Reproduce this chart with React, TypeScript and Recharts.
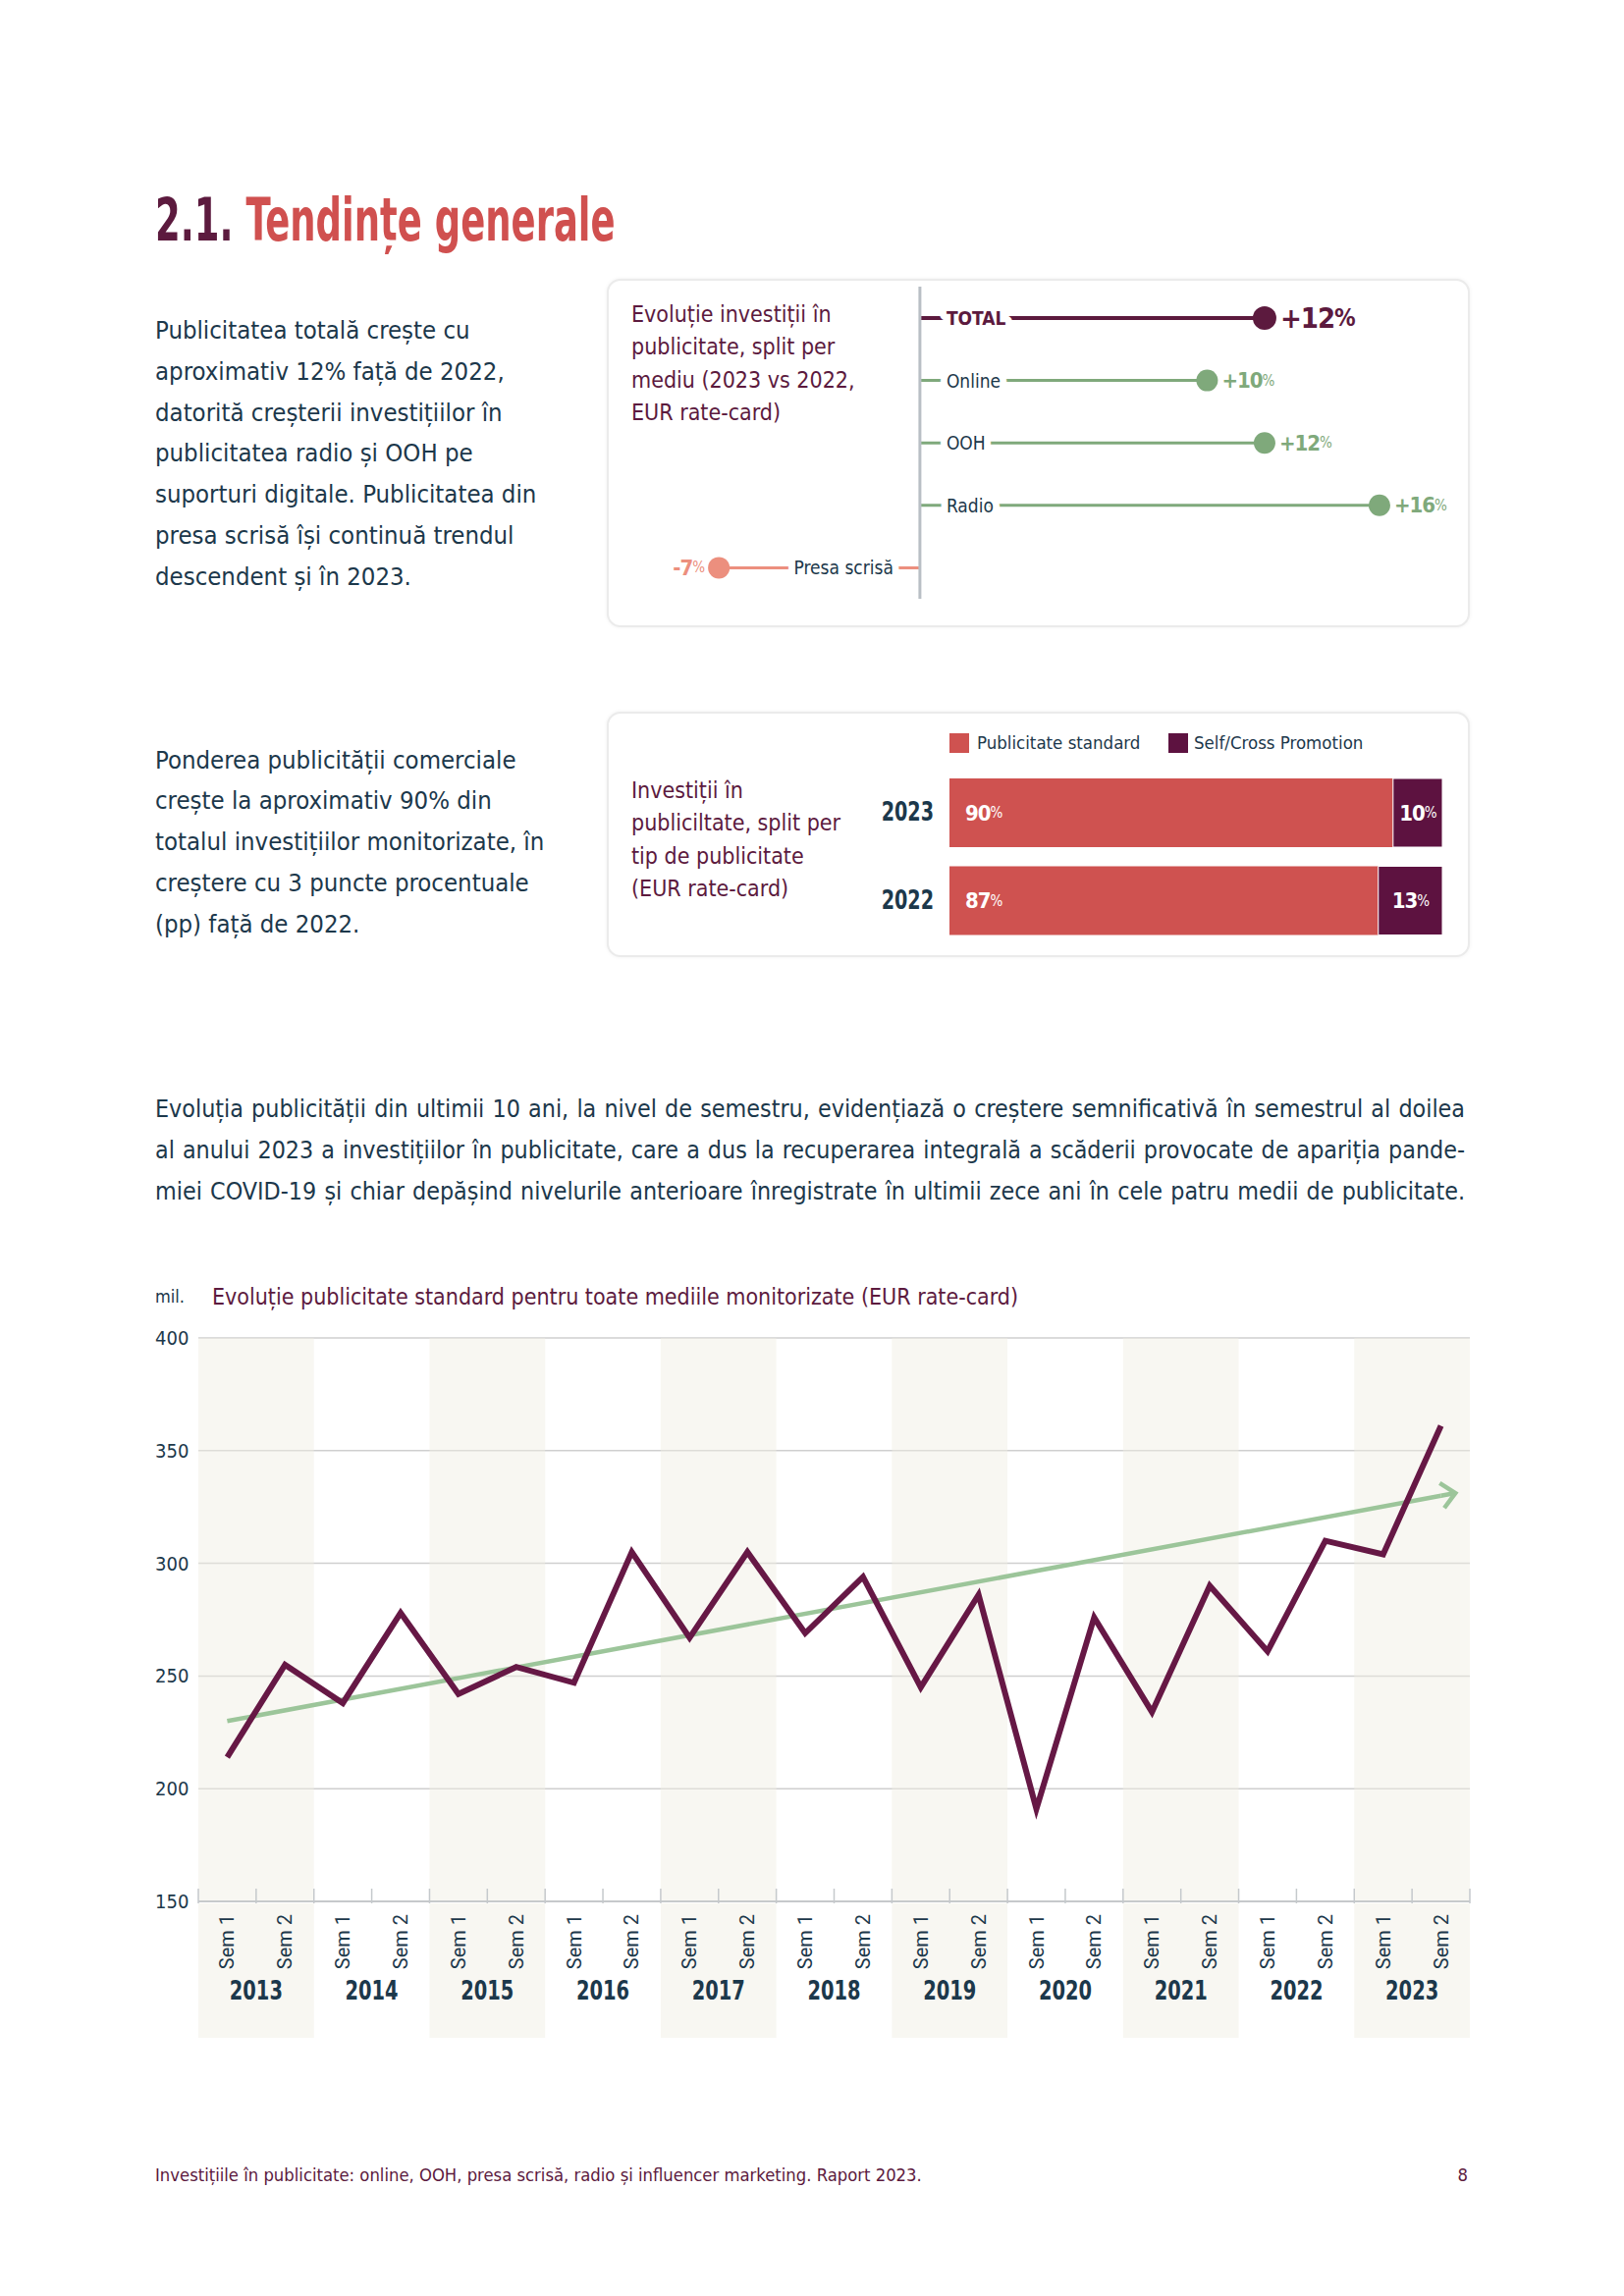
import React from "react";
import {
  ComposedChart,
  Line,
  Bar,
  XAxis,
  YAxis,
  CartesianGrid,
  ReferenceArea,
  ReferenceLine,
  LabelList,
} from "recharts";

const COND = '"Liberation Sans Narrow", "DejaVu Sans Condensed", "Roboto", sans-serif';
const PURPLE = "#5C1A3E";
const CORAL = "#D0504F";
const SLATE = "#1C384B";
const GREEN = "#7FA97B";
const SALMON = "#EC8F7E";
const LINE_COLOR = "#661845";
const TREND_COLOR = "#9CC59A";
const BAND = "#F8F7F2";

// media split (2023 vs 2022, %)
const mediaLabels = ["TOTAL", "Online", "OOH", "Radio", "Presa scrisă"];
const mediaChange = [12, 10, 12, 16, -7];

// share of ad type (%)
const shareYears = ["2023", "2022"];
const shareStandard = [90, 87];
const shareSelf = [10, 13];

// semester evolution (mil. EUR)
const years = ["2013", "2014", "2015", "2016", "2017", "2018", "2019", "2020", "2021", "2022", "2023"];
const semesters = ["Sem 1", "Sem 2"];
const adValues = [
  214, 255, 238, 278, 242, 254, 247, 305, 267, 305, 269,
  294, 245, 286, 191, 276, 234, 290, 261, 310, 304, 361,
];
const trendStart = 230;
const trendEnd = 330;
const yTicks = [150, 200, 250, 300, 350, 400];

const mediaData = mediaLabels.map((name, i) => ({ name, value: mediaChange[i] }));
const shareData = shareYears.map((year, i) => ({
  year,
  standard: shareStandard[i],
  self: shareSelf[i],
}));
const semData = years.flatMap((year, yi) =>
  semesters.map((sem, si) => {
    const idx = yi * 2 + si;
    return {
      key: `${year}-${si + 1}`,
      value: adValues[idx],
      trend: idx === 0 ? trendStart : idx === adValues.length - 1 ? trendEnd : null,
    };
  })
);

// line chart layout
const LC_W = 1360;
const LC_H = 752;
const LC_MARGIN = { top: 28, right: 13, bottom: 0, left: 0 };
const Y_W = 52;
const X_H = 150;
const PLOT_W = LC_W - LC_MARGIN.right - Y_W;
const PLOT_H = LC_H - LC_MARGIN.top - X_H;
const BW = PLOT_W / adValues.length;

const DumbbellShape = (props: any) => {
  const { x, y, width, height, payload } = props;
  const v = payload.value;
  const a = x;
  const b = x + width;
  const base = v >= 0 ? Math.min(a, b) : Math.max(a, b);
  const end = v >= 0 ? Math.max(a, b) : Math.min(a, b);
  const cy = y + height / 2;
  const isTotal = payload.name === "TOTAL";
  const color = isTotal ? PURPLE : v < 0 ? SALMON : GREEN;
  const r = isTotal ? 12 : 11;
  const dir = v >= 0 ? 1 : -1;
  const sign = v >= 0 ? "+" : "-";
  return (
    <g>
      <line x1={base} x2={end} y1={cy} y2={cy} stroke={color} strokeWidth={isTotal ? 4 : 3} />
      <text
        x={base + dir * 27}
        y={cy}
        textAnchor={v >= 0 ? "start" : "end"}
        dominantBaseline="central"
        stroke="#fff"
        strokeWidth={14}
        strokeLinejoin="round"
        paintOrder="stroke"
        fill={isTotal ? PURPLE : SLATE}
        fontWeight={isTotal ? 700 : 400}
        fontSize={19}
        fontFamily={COND}
      >
        {payload.name}
      </text>
      <circle cx={end} cy={cy} r={r} fill={color} />
      <text
        x={end + dir * (r + 4)}
        y={cy}
        textAnchor={v >= 0 ? "start" : "end"}
        dominantBaseline="central"
        fill={color}
        fontFamily={COND}
        fontWeight={700}
        fontSize={isTotal ? 29 : 22}
        letterSpacing={-1}
      >
        {sign}
        {Math.abs(v)}
        <tspan fontSize={isTotal ? 24 : 15} fontWeight={isTotal ? 700 : 400}>
          %
        </tspan>
      </text>
    </g>
  );
};

const ShareLabel = (props: any) => {
  const { x, y, width, height, value, center } = props;
  return (
    <text
      x={center ? x + width / 2 : x + 16}
      y={y + height / 2}
      textAnchor={center ? "middle" : "start"}
      dominantBaseline="central"
      fill="#fff"
      fontFamily={COND}
      fontWeight={700}
      fontSize={22}
      letterSpacing={-1}
    >
      {value}
      <tspan fontSize={15} fontWeight={400}>
        %
      </tspan>
    </text>
  );
};

const YearTick = (props: any) => {
  const { x, y, payload } = props;
  return (
    <text
      transform={`translate(${x},${y}) scale(0.82,1)`}
      textAnchor="end"
      dominantBaseline="central"
      fill={SLATE}
      fontFamily={COND}
      fontWeight={700}
      fontSize={26}
    >
      {payload.value}
    </text>
  );
};

const ValueTick = (props: any) => {
  const { y, payload } = props;
  return (
    <text x={8} y={y} textAnchor="start" dominantBaseline="central" fill={SLATE} fontFamily={COND} fontSize={20}>
      {payload.value}
    </text>
  );
};

const SemTick = (props: any) => {
  const { x, y, payload } = props;
  const [year, sem] = String(payload.value).split("-");
  const yi = years.indexOf(year);
  const si = Number(sem) - 1;
  const i = yi * 2 + si;
  const isFirst = si === 0;
  return (
    <g>
      {isFirst && yi % 2 === 0 && <rect x={x - BW / 2} y={y} width={BW * 2} height={137} fill={BAND} />}
      <line x1={x - BW / 2} x2={x - BW / 2} y1={y - 15} y2={y} stroke="#C5C9CC" strokeWidth={1.5} />
      {i === adValues.length - 1 && (
        <line x1={x + BW / 2} x2={x + BW / 2} y1={y - 15} y2={y} stroke="#C5C9CC" strokeWidth={1.5} />
      )}
      <text
        transform={`translate(${x + 7},${y + 11}) rotate(-90)`}
        textAnchor="end"
        fontSize={20}
        fontFamily="Roboto, sans-serif"
        fill={SLATE}
      >
        {semesters[si]}
      </text>
      {isFirst && (
        <text
          transform={`translate(${x + BW / 2},${y + 89}) scale(0.8,1)`}
          textAnchor="middle"
          dominantBaseline="central"
          fontWeight={700}
          fontSize={27}
          fontFamily={COND}
          fill={SLATE}
        >
          {year}
        </text>
      )}
    </g>
  );
};

const TrendArrow = (props: any) => {
  const { cx, cy, index } = props;
  if (index !== adValues.length - 1 || cx == null) return <g key={index} />;
  const dy = ((trendEnd - trendStart) / 250) * PLOT_H;
  const dx = (adValues.length - 1) * BW;
  const ang = Math.atan2(dy, dx);
  const ux = Math.cos(ang);
  const uy = -Math.sin(ang);
  const tx = cx + ux * 15;
  const ty = cy + uy * 15;
  const arm = 19;
  const spread = 0.75;
  const a1 = { x: tx - arm * Math.cos(ang - spread), y: ty + arm * Math.sin(ang - spread) };
  const a2 = { x: tx - arm * Math.cos(ang + spread), y: ty + arm * Math.sin(ang + spread) };
  return (
    <g key={index}>
      <line x1={cx} y1={cy} x2={tx} y2={ty} stroke={TREND_COLOR} strokeWidth={4.5} />
      <polyline
        points={`${a1.x},${a1.y} ${tx},${ty} ${a2.x},${a2.y}`}
        fill="none"
        stroke={TREND_COLOR}
        strokeWidth={4.5}
      />
    </g>
  );
};

const abs = (s: React.CSSProperties): React.CSSProperties => ({ position: "absolute", whiteSpace: "nowrap", ...s });

const boxStyle: React.CSSProperties = {
  position: "absolute",
  border: "2px solid #EBEBEB",
  borderRadius: 14,
  boxShadow: "0 0 4px rgba(0,0,0,0.06)",
  background: "#fff",
};

const para = (top: number, lines: string[], extra: React.CSSProperties = {}) => (
  <div style={abs({ left: 158, top, fontFamily: COND, fontSize: 25.5, lineHeight: "41.8px", color: SLATE, ...extra })}>
    {lines.map((l, i) => (
      <div key={i}>{l}</div>
    ))}
  </div>
);

export default function App() {
  return (
    <div
      style={{
        position: "absolute",
        left: 0,
        top: 0,
        width: 1654,
        height: 2339,
        background: "#fff",
        overflow: "hidden",
      }}
    >
      <div
        style={abs({
          left: 158,
          top: 194,
          fontFamily: COND,
          fontWeight: 700,
          fontSize: 60,
          lineHeight: "60px",
          transform: "scaleX(0.685)",
          transformOrigin: "left top",
        })}
      >
        <span style={{ color: PURPLE }}>2.1. </span>
        <span style={{ color: CORAL }}>Tendințe generale</span>
      </div>

      {para(316, [
        "Publicitatea totală crește cu",
        "aproximativ 12% față de 2022,",
        "datorită creșterii investițiilor în",
        "publicitatea radio și OOH pe",
        "suporturi digitale. Publicitatea din",
        "presa scrisă își continuă trendul",
        "descendent și în 2023.",
      ])}

      <div style={{ ...boxStyle, left: 618, top: 284, width: 875, height: 351 }} />
      <div style={abs({ left: 643, top: 304, fontFamily: COND, fontSize: 23, lineHeight: "33.4px", color: PURPLE })}>
        <div>Evoluție investiții în</div>
        <div>publicitate, split per</div>
        <div>mediu (2023 vs 2022,</div>
        <div>EUR rate-card)</div>
      </div>
      <div style={abs({ left: 640, top: 292 })}>
        <ComposedChart
          layout="vertical"
          width={860}
          height={318}
          data={mediaData}
          margin={{ top: 0, right: 0, bottom: 0, left: 0 }}
        >
          <XAxis type="number" domain={[-10.15, 19.25]} hide />
          <YAxis type="category" dataKey="name" hide />
          <ReferenceLine x={0} stroke="#B9BFC5" strokeWidth={3} />
          <Bar dataKey="value" barSize={4} shape={DumbbellShape} isAnimationActive={false} />
        </ComposedChart>
      </div>

      {para(753.7, [
        "Ponderea publicității comerciale",
        "crește la aproximativ 90% din",
        "totalul investițiilor monitorizate, în",
        "creștere cu 3 puncte procentuale",
        "(pp) față de 2022.",
      ])}

      <div style={{ ...boxStyle, left: 618, top: 725, width: 875, height: 246 }} />
      <div style={abs({ left: 967, top: 747, width: 20, height: 20, background: "#CF5250" })} />
      <div style={abs({ left: 995, top: 743, fontFamily: COND, fontSize: 18.5, lineHeight: "28px", color: SLATE })}>
        Publicitate standard
      </div>
      <div style={abs({ left: 1190, top: 747, width: 20, height: 20, background: "#5D1240" })} />
      <div style={abs({ left: 1216, top: 743, fontFamily: COND, fontSize: 18.5, lineHeight: "28px", color: SLATE })}>
        Self/Cross Promotion
      </div>
      <div style={abs({ left: 643, top: 789, fontFamily: COND, fontSize: 23, lineHeight: "33.4px", color: PURPLE })}>
        <div>Investiții în</div>
        <div>publiciltate, split per</div>
        <div>tip de publicitate</div>
        <div>(EUR rate-card)</div>
      </div>
      <div style={abs({ left: 867, top: 783 })}>
        <ComposedChart
          layout="vertical"
          width={602}
          height={179}
          data={shareData}
          margin={{ top: 0, right: 0, bottom: 0, left: 0 }}
        >
          <XAxis type="number" domain={[0, 100]} hide />
          <YAxis
            type="category"
            dataKey="year"
            width={100}
            axisLine={false}
            tickLine={false}
            tickSize={0}
            tickMargin={16}
            tick={YearTick}
          />
          <Bar dataKey="standard" stackId="s" fill="#CF5250" barSize={70} isAnimationActive={false}>
            <LabelList dataKey="standard" content={(p: any) => <ShareLabel {...p} />} />
          </Bar>
          <Bar
            dataKey="self"
            stackId="s"
            fill="#5D1240"
            stroke="#fff"
            strokeWidth={1}
            barSize={70}
            isAnimationActive={false}
          >
            <LabelList dataKey="self" content={(p: any) => <ShareLabel {...p} center />} />
          </Bar>
        </ComposedChart>
      </div>

      <div
        style={{
          position: "absolute",
          left: 158,
          top: 1109,
          width: 1334,
          fontFamily: COND,
          fontSize: 24.8,
          lineHeight: "41.8px",
          color: SLATE,
        }}
      >
        {[
          "Evoluția publicității din ultimii 10 ani, la nivel de semestru, evidențiază o creștere semnificativă în semestrul al doilea",
          "al anului 2023 a investițiilor în publicitate, care a dus la recuperarea integrală a scăderii provocate de apariția pande-",
          "miei COVID-19 și chiar depășind nivelurile anterioare înregistrate în ultimii zece ani în cele patru medii de publicitate.",
        ].map((l, i) => (
          <div key={i} style={{ textAlign: "justify", textAlignLast: "justify", whiteSpace: "nowrap" }}>
            {l}
          </div>
        ))}
      </div>

      <div style={abs({ left: 158, top: 1307, fontFamily: COND, fontSize: 18, lineHeight: "28px", color: SLATE })}>
        mil.
      </div>
      <div style={abs({ left: 216, top: 1305, fontFamily: COND, fontSize: 23, lineHeight: "32px", color: PURPLE })}>
        Evoluție publicitate standard pentru toate mediile monitorizate (EUR rate-card)
      </div>

      <div style={abs({ left: 150, top: 1335 })}>
        <ComposedChart width={LC_W} height={LC_H} data={semData} margin={LC_MARGIN}>
          {years.map((y, i) =>
            i % 2 === 0 ? (
              <ReferenceArea
                key={y}
                x1={`${y}-1`}
                x2={`${y}-2`}
                fill="#EFEDE3"
                fillOpacity={0.45}
                stroke="none"
              />
            ) : null
          )}
          <CartesianGrid vertical={false} stroke="#CFCFCF" strokeWidth={1.5} />
          <XAxis
            dataKey="key"
            scale="band"
            height={X_H}
            interval={0}
            tick={SemTick}
            tickLine={false}
            tickSize={0}
            axisLine={{ stroke: "#BFC3C6", strokeWidth: 1.5 }}
          />
          <YAxis
            domain={[150, 400]}
            ticks={yTicks}
            interval={0}
            width={Y_W}
            axisLine={false}
            tickLine={false}
            tick={ValueTick}
          />
          <Line
            dataKey="trend"
            connectNulls
            stroke={TREND_COLOR}
            strokeWidth={4.5}
            dot={TrendArrow}
            activeDot={false}
            isAnimationActive={false}
          />
          <Line
            dataKey="value"
            stroke={LINE_COLOR}
            strokeWidth={6}
            dot={false}
            activeDot={false}
            isAnimationActive={false}
          />
        </ComposedChart>
      </div>

      <div style={abs({ left: 158, top: 2202, fontFamily: COND, fontSize: 18.3, lineHeight: "28px", color: PURPLE })}>
        Investițiile în publicitate: online, OOH, presa scrisă, radio și influencer marketing. Raport 2023.
      </div>
      <div style={abs({ right: 159, top: 2202, fontFamily: COND, fontSize: 18.3, lineHeight: "28px", color: PURPLE })}>
        8
      </div>
    </div>
  );
}
